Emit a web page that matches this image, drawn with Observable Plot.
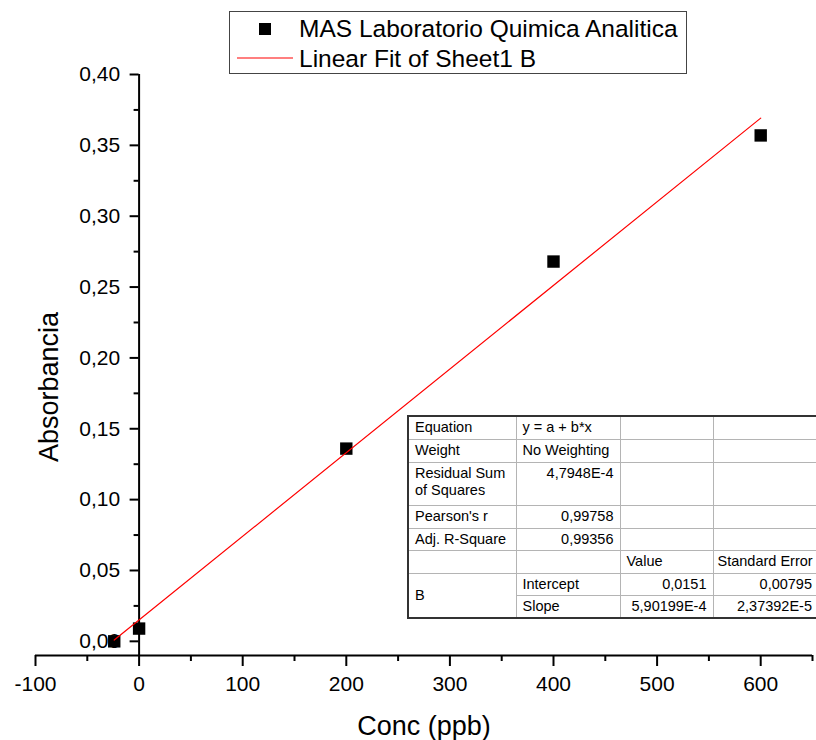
<!DOCTYPE html>
<html>
<head>
<meta charset="utf-8">
<script src="https://cdn.jsdelivr.net/npm/d3@7"></script>
<script src="https://cdn.jsdelivr.net/npm/@observablehq/plot@0.6"></script>
<style>
  html, body { margin: 0; padding: 0; background: #fff; }
  #wrap { position: relative; width: 816px; height: 740px; overflow: hidden; background: #fff;
          font-family: "Liberation Sans", Arial, sans-serif; }
  #legend { position: absolute; left: 0; top: 0; }
  #stats { position: absolute; left: 407px; top: 415px; border-collapse: collapse; table-layout: fixed;
           background: #fff; border: 2px solid #333; font-size: 14.5px; color: #000; }
  #stats td { border: 1px solid #b4b4b4; padding: 0 6px; white-space: pre; line-height: 17px;
              vertical-align: middle; overflow: hidden; box-sizing: border-box; }
</style>
</head>
<body>
<div id="wrap"></div>
<script>
// ---- data ----
const concX = [-24, 0, 200, 400, 600];          // Conc (ppb)
const absY  = [0.000, 0.009, 0.136, 0.268, 0.357]; // Absorbancia
const fitIntercept = [0.0151];
const fitSlope = [5.90199e-4];
const fitRangeX = [-24, 600];
const seriesNames = ["MAS Laboratorio Quimica Analitica", "Linear Fit of Sheet1 B"];
const xDomain = [-100, 650];
const yDomain = [-0.01, 0.40];
const xMajorTicks = [-100, 0, 100, 200, 300, 400, 500, 600];
const xMinorTicks = [-50, 50, 150, 250, 350, 450, 550, 650];
const yMajorTicks = [0, 0.05, 0.10, 0.15, 0.20, 0.25, 0.30, 0.35, 0.40];
const yMinorTicks = [0.025, 0.075, 0.125, 0.175, 0.225, 0.275, 0.325, 0.375];
const xTitle = "Conc (ppb)";
const yTitle = "Absorbancia";
const tableCol1 = ["Equation", "Weight", "Residual Sum\nof Squares", "Pearson's r", "Adj. R-Square", "", "B", ""];
const tableCol2 = ["y = a + b*x", "No Weighting", "4,7948E-4", "0,99758", "0,99356", "", "Intercept", "Slope"];
const tableCol3 = ["", "", "", "", "", "Value", "0,0151", "5,90199E-4"];
const tableCol4 = ["", "", "", "", "", "Standard Error", "0,00795", "2,37392E-5"];

// ---- layout ----
const W = 816, H = 740;
const mL = 35, mR = 4, mT = 74, mB = 85;

const points = concX.map((x, i) => ({x, y: absY[i]}));
const fit = fitRangeX.map(x => ({x, y: fitIntercept[0] + fitSlope[0] * x}));

const xs = Plot.scale({x: {domain: xDomain, range: [mL, W - mR]}});
const axisDx = xs.apply(0) - mL;

const commaFmt = d => d.toFixed(2).replace(".", ",");

const chart = Plot.plot({
  width: W, height: H,
  marginLeft: mL, marginRight: mR, marginTop: mT, marginBottom: mB,
  style: {fontFamily: '"Liberation Sans", Arial, sans-serif', fontSize: "21px", color: "#000", background: "#fff", overflow: "visible"},
  x: {domain: xDomain},
  y: {domain: yDomain},
  marks: [
    Plot.ruleY([yDomain[0]], {stroke: "#000", strokeWidth: 2}),
    Plot.ruleX([0], {stroke: "#000", strokeWidth: 2}),
    Plot.axisX(xMajorTicks, {anchor: "bottom", tickSize: 11, tickPadding: 10, strokeWidth: 2,
      fontSize: 21, label: null, tickFormat: d => String(d)}),
    Plot.axisX(xMinorTicks, {anchor: "bottom", tickSize: 6, strokeWidth: 2, fill: "none",
      label: null, tickFormat: () => ""}),
    Plot.axisY(yMajorTicks, {anchor: "left", dx: axisDx, tickSize: 9, tickPadding: 10, strokeWidth: 2,
      fontSize: 21, label: null, tickFormat: commaFmt}),
    Plot.axisY(yMinorTicks, {anchor: "left", dx: axisDx, tickSize: 5, strokeWidth: 2, fill: "none",
      label: null, tickFormat: () => ""}),
    Plot.dot(points, {x: "x", y: "y", symbol: "square", r: 7, fill: "#000", stroke: "none"}),
    Plot.line(fit, {x: "x", y: "y", stroke: "#ff0000", strokeWidth: 1.2}),
    Plot.text([yTitle], {text: d => d, frameAnchor: "left", rotate: -90, dx: 14, dy: 22,
      fontSize: 27, textAnchor: "middle", lineAnchor: "middle"}),
    Plot.text([xTitle], {text: d => d, frameAnchor: "bottom", dy: 71,
      fontSize: 27, textAnchor: "middle", lineAnchor: "middle"})
  ]
});

const wrap = document.getElementById("wrap");
wrap.appendChild(chart);

// ---- legend ----
const ns = "http://www.w3.org/2000/svg";
const leg = document.createElementNS(ns, "svg");
leg.setAttribute("id", "legend");
leg.setAttribute("width", W);
leg.setAttribute("height", 80);
leg.innerHTML = `
  <rect x="229.5" y="11.5" width="457" height="62" fill="#fff" stroke="#444" stroke-width="1"/>
  <rect x="259" y="23" width="12" height="12" fill="#000"/>
  <line x1="237" x2="293" y1="58" y2="58" stroke="#ff0000" stroke-width="1.2"/>
  <text x="299" y="37" font-size="24.5" font-family="Liberation Sans, Arial, sans-serif" fill="#000">${seriesNames[0]}</text>
  <text x="299" y="67" font-size="24.5" font-family="Liberation Sans, Arial, sans-serif" fill="#000">${seriesNames[1]}</text>`;
wrap.appendChild(leg);

// ---- statistics table ----
const colW = [108, 104, 93, 106];
const rowH = [23, 23, 43, 23, 22, 23, 22, 23];
const table = document.createElement("table");
table.id = "stats";
table.style.width = d3.sum(colW) + "px";
const cg = document.createElement("colgroup");
colW.forEach(w => { const c = document.createElement("col"); c.style.width = w + "px"; cg.appendChild(c); });
table.appendChild(cg);
const isNum = s => /^[0-9]/.test(s);
for (let r = 0; r < rowH.length; r++) {
  const tr = document.createElement("tr");
  tr.style.height = rowH[r] + "px";
  const cells = [tableCol1[r], tableCol2[r], tableCol3[r], tableCol4[r]];
  cells.forEach((txt, c) => {
    if (c === 0 && r === 7) return; // covered by rowspan
    const td = document.createElement("td");
    td.textContent = txt;
    td.style.height = rowH[r] + "px";
    if (c === 0 && r === 6) td.rowSpan = 2;
    if (isNum(txt)) td.style.textAlign = "right";
    if (c === 3) td.style.paddingLeft = "4px";
    if (r === 2) { td.style.verticalAlign = "top"; td.style.paddingTop = "2px"; }
    tr.appendChild(td);
  });
  table.appendChild(tr);
}
wrap.appendChild(table);
</script>
</body>
</html>
